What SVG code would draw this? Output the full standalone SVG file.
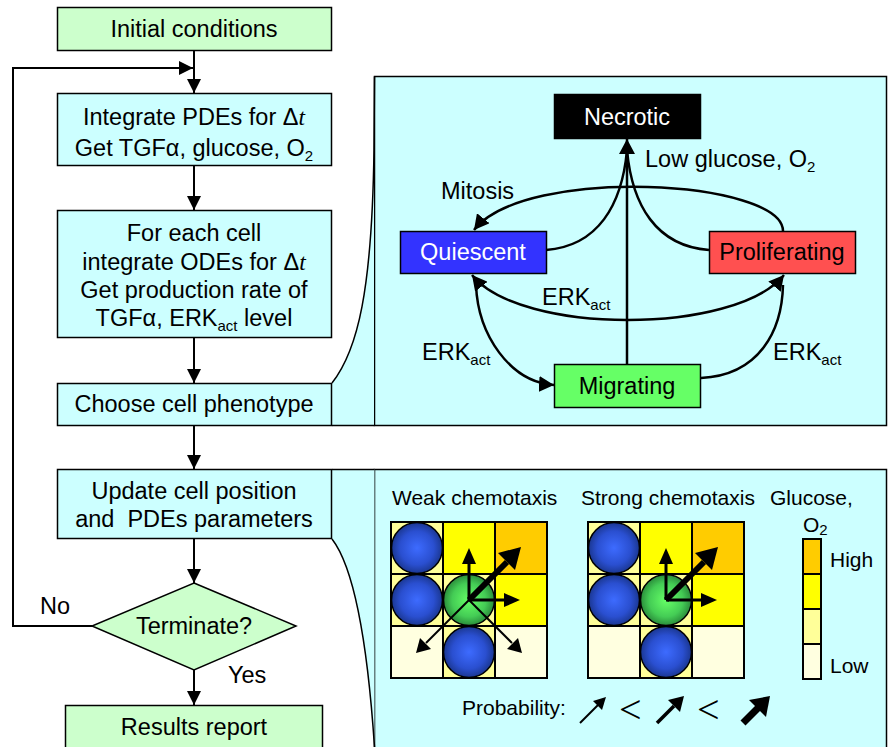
<svg xmlns="http://www.w3.org/2000/svg" width="889" height="747" viewBox="0 0 889 747">
<defs>
<style>
text{font-family:"Liberation Sans",Arial,sans-serif;fill:#000}
.t{font-size:23.5px}
.s{font-size:21px}
.m{text-anchor:middle}
.box{fill:#ccffff;stroke:#000;stroke-width:1.5}
.gbox{fill:#ccffcc;stroke:#000;stroke-width:1.5}
.ln{fill:none;stroke:#000;stroke-width:2}
.cv{fill:none;stroke:#000;stroke-width:2.5}
.co{fill:none;stroke:#000;stroke-width:1.5}
.grid{stroke:#000;stroke-width:2}
.sub{font-size:15px}
.lt{font-family:"DejaVu Sans",sans-serif;font-size:30px;font-weight:200}
</style>
<marker id="ah" markerUnits="userSpaceOnUse" markerWidth="14" markerHeight="14" refX="14" refY="7" orient="auto-start-reverse" viewBox="0 0 14 14">
<path d="M0,0 L14,7 L0,14 z" fill="#000"/>
</marker>
<marker id="ah2" markerUnits="userSpaceOnUse" markerWidth="16" markerHeight="16" refX="15" refY="8" orient="auto-start-reverse" viewBox="0 0 16 16">
<path d="M0,0 L15,8 L0,16 z" fill="#000"/>
</marker>
<radialGradient id="gb" cx="0.5" cy="0.5" r="0.55">
<stop offset="0" stop-color="#3d6bff"/>
<stop offset="0.6" stop-color="#2a4fd0"/>
<stop offset="1" stop-color="#16307f"/>
</radialGradient>
<radialGradient id="gg" cx="0.5" cy="0.5" r="0.55">
<stop offset="0" stop-color="#66ff66"/>
<stop offset="0.6" stop-color="#44cc55"/>
<stop offset="1" stop-color="#237a33"/>
</radialGradient>
</defs>
<rect width="889" height="747" fill="#fff"/>

<!-- panels and callouts -->
<g id="panel-top">
<rect x="374.5" y="76.5" width="512" height="349" class="box"/>
<path d="M332,383 C358,350 372,290 374,150 L374,425.5 L332,425.5 Z" fill="#ccffff"/>
<path d="M332,383 C358,350 372,290 374,150 L374.5,76.5" class="co"/>
<path d="M332,425.5 L374.5,425.5" class="co"/>
</g>
<g id="panel-bottom">
<rect x="374.5" y="469.5" width="512" height="290" class="box"/>
<path d="M332,469.5 L374.5,469.5 L374.5,747 C368,650 356,570 332,539 Z" fill="#ccffff"/>
<path d="M332,539 C356,570 368,650 374.5,747" class="co"/>
<path d="M332,469.5 L374.5,469.5" class="co"/>
</g>

<!-- flowchart nodes -->
<g id="n-initial">
<rect x="57.5" y="7.5" width="274" height="43" class="gbox"/>
<text class="t m" x="194" y="37">Initial conditions</text>
</g>
<g id="n-pde">
<rect x="57.5" y="93.5" width="274" height="72" class="box"/>
<text class="t m" x="194" y="125">Integrate PDEs for Δ<tspan font-family="Liberation Serif" font-style="italic">t</tspan></text>
<text class="t m" x="194" y="156">Get TGFα, glucose, O<tspan class="sub" dy="5">2</tspan></text>
</g>
<g id="n-ode">
<rect x="57.5" y="210.5" width="274" height="127" class="box"/>
<text class="t m" x="194" y="241">For each cell</text>
<text class="t m" x="194" y="270">integrate ODEs for Δ<tspan font-family="Liberation Serif" font-style="italic">t</tspan></text>
<text class="t m" x="194" y="298">Get production rate of</text>
<text class="t m" x="194" y="326">TGFα, ERK<tspan class="sub" dy="5">act</tspan><tspan dy="-5"> level</tspan></text>
</g>
<g id="n-choose">
<rect x="57.5" y="383.5" width="274" height="42" class="box"/>
<text class="t m" x="194" y="412">Choose cell phenotype</text>
</g>
<g id="n-update">
<rect x="57.5" y="469.5" width="274" height="69" class="box"/>
<text class="t m" x="194" y="499">Update cell position</text>
<text class="t m" x="194" y="527" style="white-space:pre">and  PDEs parameters</text>
</g>
<g id="n-terminate">
<path d="M194,583 L296,626 L194,670 L92,626 Z" class="gbox"/>
<text class="t m" x="194" y="634">Terminate?</text>
</g>
<g id="n-results">
<rect x="65.5" y="705.5" width="257" height="50" class="gbox"/>
<text class="t m" x="194" y="735">Results report</text>
</g>

<!-- phenotype nodes -->
<g id="n-necrotic">
<rect x="554.5" y="94.5" width="146" height="44" fill="#000" stroke="#000" stroke-width="1.5"/>
<text class="t m" x="627" y="125" style="fill:#fff">Necrotic</text>
</g>
<g id="n-quiescent">
<rect x="400.5" y="231.5" width="146" height="42" fill="#3333ff" stroke="#000" stroke-width="1.5"/>
<text class="t m" x="473" y="260" style="fill:#fff">Quiescent</text>
</g>
<g id="n-proliferating">
<rect x="709.5" y="231.5" width="146" height="42" fill="#ff5050" stroke="#000" stroke-width="1.5"/>
<text class="t m" x="782" y="260">Proliferating</text>
</g>
<g id="n-migrating">
<rect x="554.5" y="364.5" width="146" height="43" fill="#66ff66" stroke="#000" stroke-width="1.5"/>
<text class="t m" x="627" y="394">Migrating</text>
</g>

<!-- connectors -->
<g id="connectors">
<path d="M194,50 L194,93" class="ln" marker-end="url(#ah)"/>
<path d="M92,626 L13,626 L13,68 L193,68" class="ln" marker-end="url(#ah)"/>
<path d="M194,166 L194,210" class="ln" marker-end="url(#ah)"/>
<path d="M194,338 L194,383" class="ln" marker-end="url(#ah)"/>
<path d="M194,426 L194,469" class="ln" marker-end="url(#ah)"/>
<path d="M194,539 L194,583" class="ln" marker-end="url(#ah)"/>
<path d="M194,670 L194,705" class="ln" marker-end="url(#ah)"/>

<path d="M627,364 L627,139" class="cv" marker-end="url(#ah2)"/>
<path d="M546,250 C598,246 622,205 627,150" class="cv"/>
<path d="M709,250 C656,246 632,205 627,150" class="cv"/>
<path d="M783,231 C783,180 525,165 474,230" class="cv" marker-end="url(#ah2)"/>
<path d="M472,275 C520,335 735,335 784,275" class="cv" marker-start="url(#ah2)" marker-end="url(#ah2)"/>
<path d="M476,285 C478,335 510,382 554,385" class="cv" marker-end="url(#ah2)"/>
<path d="M701,378 C760,375 782,330 783,285" class="cv"/>
</g>

<!-- connector labels -->
<g id="labels">
<text class="t" x="645" y="167">Low glucose, O<tspan class="sub" dy="5">2</tspan></text>
<text class="t" x="441" y="199">Mitosis</text>
<text class="t" x="542" y="305">ERK<tspan class="sub" dy="5">act</tspan></text>
<text class="t" x="422" y="360">ERK<tspan class="sub" dy="5">act</tspan></text>
<text class="t" x="773" y="360">ERK<tspan class="sub" dy="5">act</tspan></text>
<text class="t" x="40" y="614">No</text>
<text class="t" x="228" y="683">Yes</text>
</g>

<!-- chemotaxis panel -->
<g id="weak">
<text class="s" x="392" y="505">Weak chemotaxis</text>
<g class="grid">
<rect x="391" y="522" width="52" height="52" fill="#ffff99"/>
<rect x="443" y="522" width="52" height="52" fill="#ffff00"/>
<rect x="495" y="522" width="52" height="52" fill="#ffcc00"/>
<rect x="391" y="574" width="52" height="52" fill="#ffff99"/>
<rect x="443" y="574" width="52" height="52" fill="#ffff99"/>
<rect x="495" y="574" width="52" height="52" fill="#ffff00"/>
<rect x="391" y="626" width="52" height="52" fill="#ffffe0"/>
<rect x="443" y="626" width="52" height="52" fill="#ffff99"/>
<rect x="495" y="626" width="52" height="52" fill="#ffffe0"/>
</g>
<circle cx="417" cy="548" r="25.5" fill="url(#gb)" stroke="#000" stroke-width="1.5"/>
<circle cx="417" cy="600" r="25.5" fill="url(#gb)" stroke="#000" stroke-width="1.5"/>
<circle cx="469" cy="652" r="25.5" fill="url(#gb)" stroke="#000" stroke-width="1.5"/>
<circle cx="469" cy="600" r="25.5" fill="url(#gg)" stroke="#000" stroke-width="1.5"/>
<path d="M469,600 L469,562" stroke="#000" stroke-width="3"/>
<path d="M462,564 L469,548 L476,564 Z"/>
<path d="M469,600 L506,600" stroke="#000" stroke-width="3"/>
<path d="M504,593 L520,600 L504,607 Z"/>
<path d="M469,600 L507,562" stroke="#000" stroke-width="6"/>
<path d="M498,553 L521,547 L515,570 Z"/>
<path d="M469,600 L426,643" stroke="#000" stroke-width="2"/>
<path d="M420,638 L416,653 L431,649 Z"/>
<path d="M469,600 L512,643" stroke="#000" stroke-width="2"/>
<path d="M507,649 L522,653 L518,638 Z"/>
</g>
<g id="strong">
<text class="s" x="581" y="505">Strong chemotaxis</text>
<g class="grid">
<rect x="588" y="522" width="52" height="52" fill="#ffff99"/>
<rect x="640" y="522" width="52" height="52" fill="#ffff00"/>
<rect x="692" y="522" width="52" height="52" fill="#ffcc00"/>
<rect x="588" y="574" width="52" height="52" fill="#ffff99"/>
<rect x="640" y="574" width="52" height="52" fill="#ffff99"/>
<rect x="692" y="574" width="52" height="52" fill="#ffff00"/>
<rect x="588" y="626" width="52" height="52" fill="#ffffe0"/>
<rect x="640" y="626" width="52" height="52" fill="#ffff99"/>
<rect x="692" y="626" width="52" height="52" fill="#ffffe0"/>
</g>
<circle cx="614" cy="548" r="25.5" fill="url(#gb)" stroke="#000" stroke-width="1.5"/>
<circle cx="614" cy="600" r="25.5" fill="url(#gb)" stroke="#000" stroke-width="1.5"/>
<circle cx="666" cy="652" r="25.5" fill="url(#gb)" stroke="#000" stroke-width="1.5"/>
<circle cx="666" cy="600" r="25.5" fill="url(#gg)" stroke="#000" stroke-width="1.5"/>
<path d="M666,600 L666,562" stroke="#000" stroke-width="3"/>
<path d="M659,564 L666,548 L673,564 Z"/>
<path d="M666,600 L703,600" stroke="#000" stroke-width="3"/>
<path d="M701,593 L717,600 L701,607 Z"/>
<path d="M666,600 L704,562" stroke="#000" stroke-width="6"/>
<path d="M695,553 L718,547 L712,570 Z"/>
</g>
<g id="legend">
<text class="s" x="770" y="505">Glucose,</text>
<text class="s" x="803" y="532">O<tspan class="sub" dy="3" style="font-size:15px">2</tspan></text>
<g class="grid">
<rect x="803" y="539" width="18" height="35" fill="#ffcc00"/>
<rect x="803" y="574" width="18" height="35" fill="#ffff00"/>
<rect x="803" y="609" width="18" height="35" fill="#ffff99"/>
<rect x="803" y="644" width="18" height="35" fill="#ffffe0"/>
</g>
<text class="s" x="830" y="567">High</text>
<text class="s" x="830" y="673">Low</text>
</g>
<g id="probability">
<text class="s" x="462" y="715">Probability:</text>
<path d="M580,723 L598,705" stroke="#000" stroke-width="2"/>
<path d="M593,701 L606,697 L602,710 Z"/>
<text class="lt" x="619" y="723" style="font-family:'Liberation Serif',serif;font-size:40px">&lt;</text>
<path d="M657,723 L674,706" stroke="#000" stroke-width="3.5"/>
<path d="M668,700 L684,696 L680,712 Z"/>
<text class="lt" x="697" y="723" style="font-family:'Liberation Serif',serif;font-size:40px">&lt;</text>
<path d="M743,723 L758,708" stroke="#000" stroke-width="7"/>
<path d="M749,700 L770,696 L766,717 Z"/>
</g>
</svg>
